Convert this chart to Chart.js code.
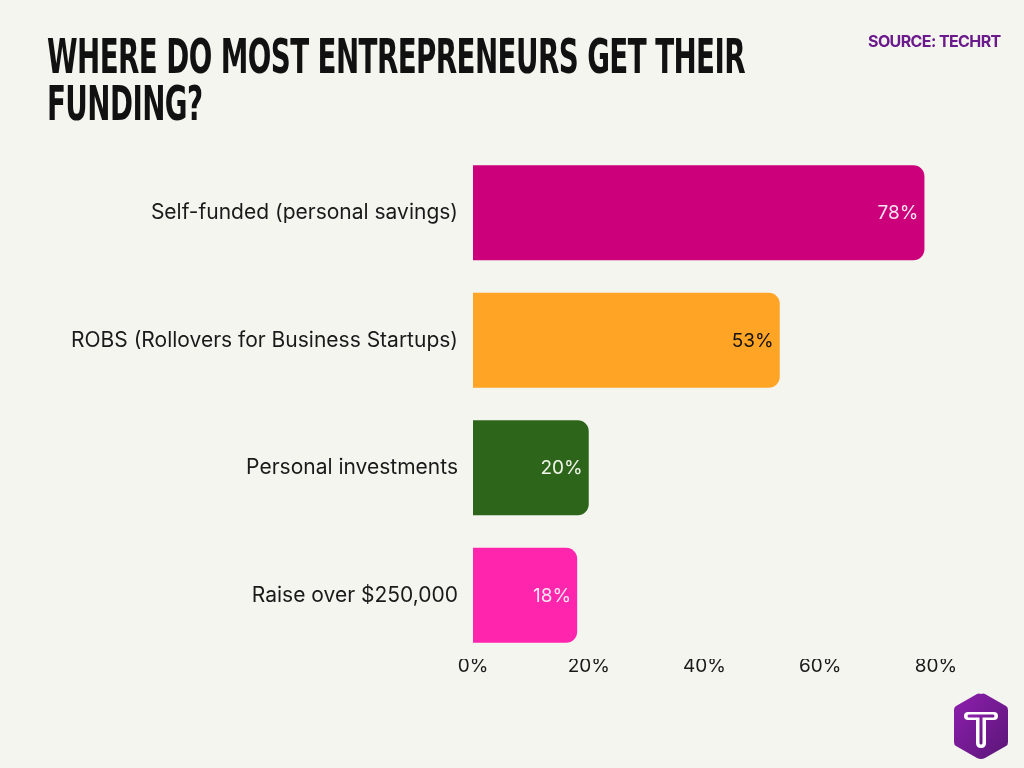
<!DOCTYPE html>
<html>
<head>
<meta charset="utf-8">
<script src="https://cdn.jsdelivr.net/npm/chart.js@4.4.1/dist/chart.umd.min.js"></script>
<style>
  html, body { margin: 0; padding: 0; background: #F5F5F0; }
  #wrap { position: relative; width: 1024px; height: 768px; overflow: hidden; background: #F5F5F0; }
  #title { position: absolute; left: 47px; top: 33px; font-family: "DejaVu Sans", sans-serif; font-weight: bold;
           font-size: 48px; line-height: 47px; color: #111; white-space: nowrap; transform-origin: 0 0; letter-spacing: -1px; }
  #source { position: absolute; left: 868px; top: 31px; font-family: Inter, sans-serif; font-weight: 700; font-size: 16px;
            color: #6B1A8C; letter-spacing: -0.6px; white-space: nowrap; }
  #logo { position: absolute; left: 946px; top: 689px; }
  canvas { position: absolute; left: 0; top: 0; }
</style>
</head>
<body>
<div id="wrap">
  <canvas id="c" width="1024" height="768"></canvas>
  <div id="title"><span id="t1">WHERE DO MOST ENTREPRENEURS GET THEIR</span><br><span>FUNDING?</span></div>
  <div id="source">SOURCE: TECHRT</div>
  <svg id="logo" width="70" height="76" viewBox="0 0 70 76">
    <defs>
      <linearGradient id="g" x1="0" y1="0" x2="1" y2="1">
        <stop offset="0" stop-color="#8E1FAE"/>
        <stop offset="1" stop-color="#5A1677"/>
      </linearGradient>
    </defs>
    <path d="M35 5 Q37 4 39 5 L60 17 Q62 18 62 21 L62 53 Q62 56 60 57 L39 69 Q37 70 35 70 Q33 70 31 69 L10 57 Q8 56 8 53 L8 21 Q8 18 10 17 L31 5 Q33 4 35 5 Z" fill="url(#g)"/>
    <path d="M22 23 L48 23 Q52 23 52 27 Q52 31 48 31 L40 31 L40 54 Q40 59 35 59 Q30 59 30 54 L30 31 L22 31 Q18 31 18 27 Q18 23 22 23 Z" fill="#fff"/>
    <path d="M23 27 L47 27 M35 28 L35 54" stroke="url(#g)" stroke-width="3" stroke-linecap="round" fill="none"/>
  </svg>
</div>
<script>
const categories = ["Self-funded (personal savings)", "ROBS (Rollovers for Business Startups)", "Personal investments", "Raise over $250,000"];
const shares = [78, 53, 20, 18];
const barColors = ["#CC007A", "#FFA425", "#2D661A", "#FF25AD"];
const valueLabelColors = ["#FBE3F0", "#111111", "#F1F5EC", "#FCE6F3"];
const xTicks = [0, 20, 40, 60, 80];

// fit title line 1 width
(function () {
  const t = document.getElementById('title');
  const w = document.getElementById('t1').getBoundingClientRect().width;
  t.style.transform = 'scaleX(' + (698 / w) + ')';
})();

const valueLabels = {
  id: 'valueLabels',
  afterDatasetsDraw(chart) {
    const ctx = chart.ctx;
    const meta = chart.getDatasetMeta(0);
    ctx.save();
    ctx.font = '19px Inter, sans-serif';
    ctx.textAlign = 'right';
    ctx.textBaseline = 'middle';
    meta.data.forEach((bar, i) => {
      ctx.fillStyle = valueLabelColors[i];
      ctx.fillText(shares[i] + '%', bar.x - 6, bar.y + 1);
    });
    ctx.restore();
  }
};

new Chart(document.getElementById('c'), {
  type: 'bar',
  data: {
    labels: categories,
    datasets: [{
      data: shares,
      backgroundColor: barColors,
      borderRadius: 11,
      barPercentage: 0.745,
      categoryPercentage: 1.0
    }]
  },
  options: {
    indexAxis: 'y',
    responsive: false,
    animation: false,
    layout: { padding: { top: 149, right: 88, left: 0, bottom: 0 } },
    plugins: { legend: { display: false }, tooltip: { enabled: false }, title: { display: false } },
    scales: {
      x: {
        min: 0, max: 80,
        afterBuildTicks(scale) { scale.ticks = xTicks.map(v => ({ value: v })); },
        afterFit(scale) { scale.height = 768 - 659; },
        grid: { display: false, drawTicks: false },
        border: { display: false },
        ticks: { padding: -4, color: '#1a1a1a', font: { family: 'Inter', size: 19 }, callback: v => v + '%', maxRotation: 0 }
      },
      y: {
        afterFit(scale) { scale.width = 473; },
        grid: { display: false, drawTicks: false },
        border: { display: false },
        ticks: { padding: 15, color: '#1a1a1a', font: { family: 'Inter', size: 21 } }
      }
    }
  },
  plugins: [valueLabels]
});
</script>
</body>
</html>
